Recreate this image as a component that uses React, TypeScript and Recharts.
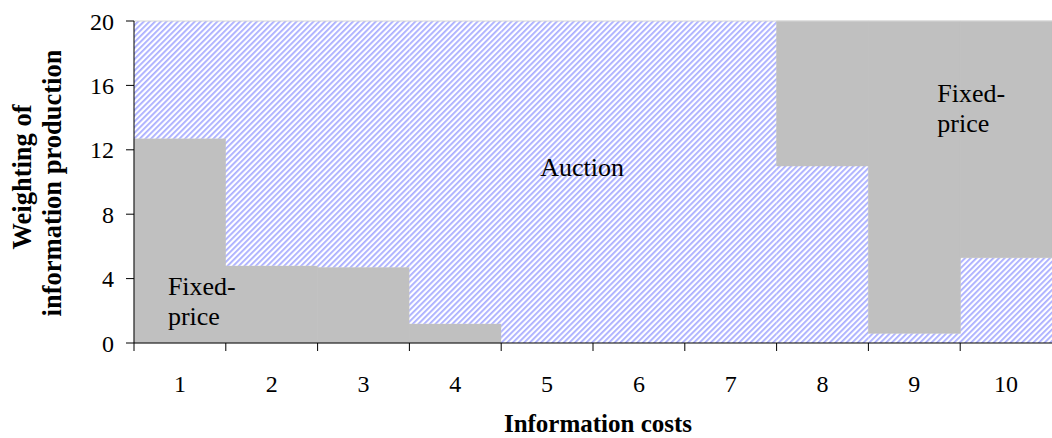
import React from 'react';
import { BarChart, Bar, XAxis, YAxis, ReferenceLine, ReferenceDot } from 'recharts';

const categories = ['1', '2', '3', '4', '5', '6', '7', '8', '9', '10'];
const fixedLower = [12.7, 4.8, 4.7, 1.2, 0, 0, 0, 0, 0, 0];
const auction = [7.3, 15.2, 15.3, 18.8, 20, 20, 20, 11, 0.6, 5.3];
const fixedUpper = [0, 0, 0, 0, 0, 0, 0, 9, 19.4, 14.7];
const yTicks = [0, 4, 8, 12, 16, 20];

const data = categories.map((c, i) => ({
  cat: c,
  fixedLower: fixedLower[i],
  auction: auction[i],
  fixedUpper: fixedUpper[i],
}));

const W = 1052;
const H = 438;
const Y_AXIS_W = 134;
const band = (W - Y_AXIS_W) / categories.length;
const FONT = '"Liberation Serif", "Times New Roman", serif';
const GRAY = '#c0c0c0';

const XTick = (props: any) => {
  const { x, y, payload } = props;
  return (
    <g>
      <line x1={x - band / 2} x2={x - band / 2} y1={y} y2={y + 8} stroke="#000" strokeWidth={1} />
      <text x={x} y={y + 49} textAnchor="middle" fontSize={24} fontFamily={FONT} fill="#000">
        {payload.value}
      </text>
    </g>
  );
};

const annot = (lines: string[], dx: number, anchor: 'start' | 'middle') => (props: any) => {
  const vb = props.viewBox || {};
  const cx = (vb.x ?? 0) + (vb.width ?? 0) / 2;
  const cy = (vb.y ?? 0) + (vb.height ?? 0) / 2;
  return (
    <text x={cx + dx} y={cy} textAnchor={anchor} fontSize={26} fontFamily={FONT} fill="#000">
      {lines.map((l, i) => (
        <tspan key={i} x={cx + dx} dy={i === 0 ? 0 : 30}>
          {l}
        </tspan>
      ))}
    </text>
  );
};

const YLabel = () => (
  <g>
    <defs>
      <clipPath id="ylabclip">
        <rect x={0} y={51} width={100} height={387} />
      </clipPath>
    </defs>
    <g clipPath="url(#ylabclip)">
      <text
        x={0}
        y={0}
        transform="translate(31 177) rotate(-90)"
        textAnchor="middle"
        fontSize={26.5}
        fontWeight="bold"
        fontFamily={FONT}
        fill="#000"
      >
        Weighting of
      </text>
      <text
        x={0}
        y={0}
        transform="translate(61 183) rotate(-90)"
        textAnchor="middle"
        fontSize={26.5}
        fontWeight="bold"
        fontFamily={FONT}
        fill="#000"
      >
        information production
      </text>
    </g>
  </g>
);

const XLabel = (props: any) => {
  const vb = props.viewBox || {};
  return (
    <text
      x={vb.x + vb.width / 2 + 5}
      y={432}
      textAnchor="middle"
      fontSize={25}
      fontWeight="bold"
      fontFamily={FONT}
      fill="#000"
    >
      Information costs
    </text>
  );
};

export default function App() {
  return (
    <div style={{ position: 'absolute', left: 0, top: 0, width: W, height: H, background: '#fff' }}>
      <BarChart
        width={W}
        height={H}
        data={data}
        margin={{ top: 21, right: 0, left: 0, bottom: 0 }}
        barCategoryGap={0}
        barGap={0}
      >
        <defs>
          <pattern
            id="hatch"
            patternUnits="userSpaceOnUse"
            width={4}
            height={4}
            patternTransform="rotate(45)"
          >
            <rect x={0} y={0} width={4} height={4} fill="#ffffff" />
            <rect x={0} y={0} width={1.8} height={4} fill="#aaaeff" />
          </pattern>
        </defs>
        <XAxis
          dataKey="cat"
          interval={0}
          tickLine={false}
          tickSize={0}
          tickMargin={0}
          height={95}
          axisLine={{ stroke: '#000' }}
          tick={<XTick />}
          label={{ content: <XLabel /> } as any}
        />
        <YAxis
          type="number"
          domain={[0, 20]}
          ticks={yTicks}
          interval={0}
          width={Y_AXIS_W}
          tickSize={8}
          tickMargin={12}
          axisLine={{ stroke: '#000' }}
          tickLine={{ stroke: '#000' }}
          tick={{ fill: '#000', fontSize: 24, fontFamily: FONT }}
          label={{ content: <YLabel /> } as any}
        />
        <Bar dataKey="fixedLower" stackId="s" fill={GRAY} stroke={GRAY} strokeWidth={0.6} isAnimationActive={false} />
        <Bar dataKey="auction" stackId="s" fill="url(#hatch)" isAnimationActive={false} />
        <Bar dataKey="fixedUpper" stackId="s" fill={GRAY} stroke={GRAY} strokeWidth={0.6} isAnimationActive={false} />
        <ReferenceLine y={20} stroke="#d6d6d6" strokeWidth={1} ifOverflow="extendDomain" />
        <ReferenceDot
          x="1"
          y={3}
          r={0}
          fill="none"
          stroke="none"
          label={{ content: annot(['Fixed-', 'price'], -12, 'start') } as any}
        />
        <ReferenceDot
          x="9"
          y={15}
          r={0}
          fill="none"
          stroke="none"
          label={{ content: annot(['Fixed-', 'price'], 23, 'start') } as any}
        />
        <ReferenceDot
          x="5"
          y={10.4}
          r={0}
          fill="none"
          stroke="none"
          label={{ content: annot(['Auction'], 35, 'middle') } as any}
        />
      </BarChart>
    </div>
  );
}
